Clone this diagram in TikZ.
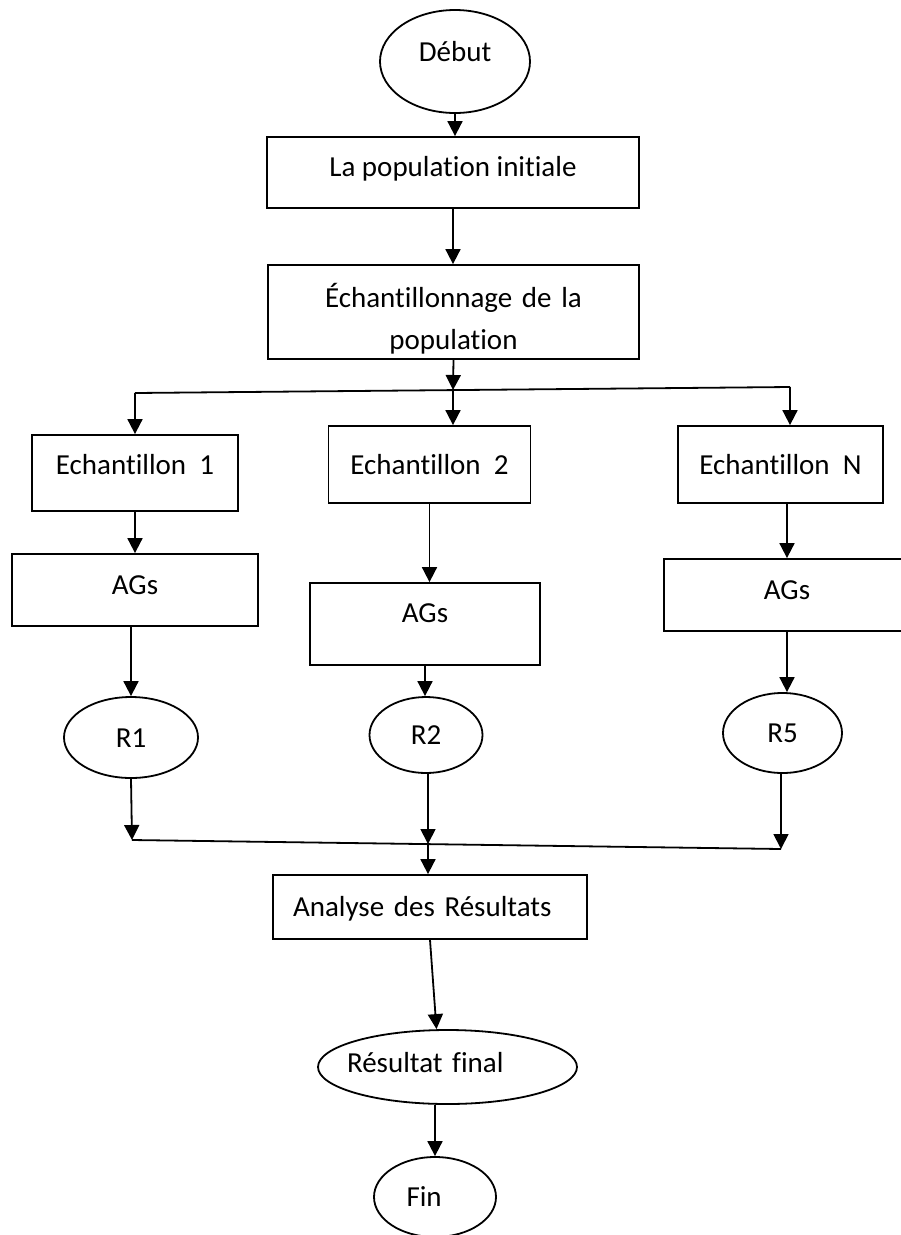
\documentclass[tikz,border=0pt]{standalone}
\usepackage{fontspec}
\setmainfont{Carlito}[Ligatures=NoCommon]
\usetikzlibrary{arrows.meta,shapes.geometric}

\begin{document}
\begin{tikzpicture}[
    x=1pt,
    y=-1pt,
    line width=1.8pt,
    every node/.style={%
      font=\fontsize{29}{42}\selectfont,
      inner sep=0pt,
      text height=19pt,
      text depth=0pt,
    },
    box/.style={%
      draw,
      rectangle,
    },
    oval/.style={%
      draw,
      ellipse,
    },
    arrow/.style={%
      -{Triangle[width=15pt,length=15pt]},
    },
  ]

    \clip (0,0) rectangle (901,1235);

    \node [oval, minimum width=150pt, minimum height=103pt, text depth=19pt] (Debut) at (455,61.5) {Début};
    \node [box, minimum width=372pt, minimum height=71pt, text depth=11pt] (Pop) at (453,172.5) {La population initiale};
    \node [box, minimum width=371pt, minimum height=94pt, text width=300pt, align=center, text depth=28pt] (Ech) at (453.5,312) {Échantillonnage de la\\population};

    \node [box, minimum width=206pt, minimum height=76pt, text depth=16pt] (E1) at (135,473) {Echantillon\ \ 1};
    \node [box, minimum width=202pt, minimum height=77pt] (E2) at (429.5,464.5) {Echantillon\ \ 2};
    \node [box, minimum width=205pt, minimum height=77pt] (EN) at (780.5,464.5) {Echantillon\ \ N};

    \node [box, minimum width=246pt, minimum height=72pt, text depth=10pt] (G1) at (135,590) {AGs};
    \node [box, minimum width=230pt, minimum height=82pt, text depth=22pt] (G2) at (425,624) {AGs};
    \node [box, minimum width=246pt, minimum height=72pt, text depth=10pt] (GN) at (787,595) {AGs};

    \node [oval, minimum width=134pt, minimum height=81pt] (R1) at (131,737.5) {R1};
    \node [oval, minimum width=113pt, minimum height=76pt] (R2) at (426,735) {R2};
    \node [oval, minimum width=119pt, minimum height=80pt] (R5) at (782.5,733) {R5};

    \node [box, minimum width=314pt, minimum height=64pt, text width=274pt, align=left] (Ana) at (430,907) {Analyse des Résultats};
    \node [oval, minimum width=259pt, minimum height=74pt, text width=201pt, align=left, inner xsep=-10pt, text depth=8pt] (Res) at (447.5,1067) {Résultat final};
    \node [oval, minimum width=122pt, minimum height=80pt, text width=57pt, align=left] (Fin) at (435,1197) {Fin};

    % split and merge lines
    \coordinate (S1) at (135,393);
    \coordinate (S2) at (453,390);
    \coordinate (SN) at (790,387);
    \coordinate (M1) at (132,840);
    \coordinate (M2) at (428,844);
    \coordinate (MN) at (781,849);

    \draw [arrow] (Debut.south) -- (Debut.south |- Pop.north);
    \draw [arrow] (Pop.south) -- (Pop.south |- Ech.north);
    \draw [arrow] (Ech.south) -- (S2);
    \draw (S1) -- (SN);
    \draw [arrow] (S1) -- (S1 |- E1.north);
    \draw [arrow] (S2) -- (S2 |- E2.north);
    \draw [arrow] (SN) -- (SN |- EN.north);

    \draw [arrow] (E1.south) -- (E1.south |- G1.north);
    \draw [arrow] (E2.south) -- (E2.south |- G2.north);
    \draw [arrow] (GN.north |- EN.south) -- (GN.north);

    \draw [arrow] (R1.north |- G1.south) -- (R1.north);
    \draw [arrow] (G2.south) -- (G2.south |- R2.north);
    \draw [arrow] (GN.south) -- (GN.south |- R5.north);

    \draw [arrow] (R1.south) -- (M1);
    \draw [arrow] (R2.south -| M2) -- (M2);
    \draw [arrow] (R5.south -| MN) -- (MN);
    \draw (M1) -- (MN);
    \draw [arrow] (M2) -- (M2 |- Ana.north);

    \draw [arrow] (Ana.south) -- ([xshift=-11pt]Res.north);
    \draw [arrow] (Res.south -| Fin.north) -- (Fin.north);
\end{tikzpicture}
\end{document}
